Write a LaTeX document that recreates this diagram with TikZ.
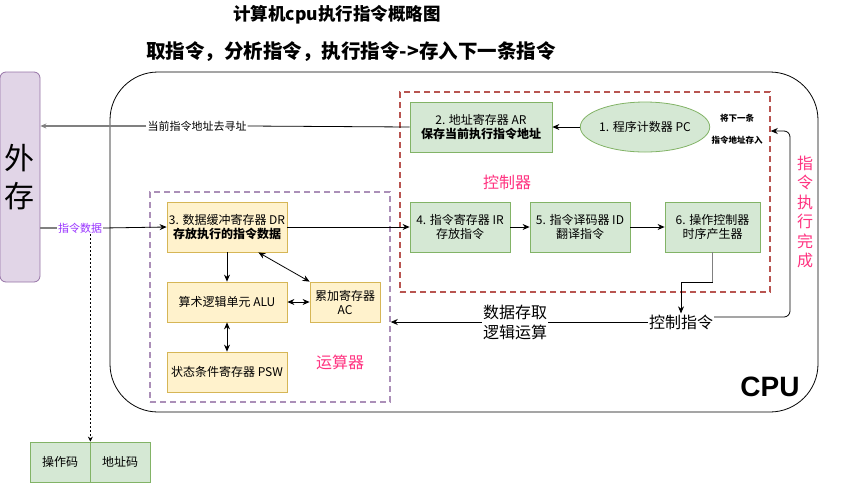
\documentclass[tikz,border=0pt]{standalone}
\usepackage{fontspec}
\setmainfont{Noto Sans CJK SC}
\newfontfamily\arialfont{Liberation Sans}
\usetikzlibrary{arrows.meta,shapes.geometric}
\definecolor{greenfill}{HTML}{D5E8D4}
\definecolor{greenline}{HTML}{82B366}
\definecolor{yellowfill}{HTML}{FFF2CC}
\definecolor{yellowline}{HTML}{D6B656}
\definecolor{purplefill}{HTML}{E1D5E7}
\definecolor{purpleline}{HTML}{9673A6}
\definecolor{redline}{HTML}{B85450}
\definecolor{pinktext}{HTML}{FF3380}
\definecolor{violettext}{HTML}{9933FF}
\tikzset{
  greenbox/.style={draw=greenline,fill=greenfill,line width=0.8pt,inner sep=0pt,align=center,font=\fontsize{12}{14}\selectfont},
  yellowbox/.style={draw=yellowline,fill=yellowfill,line width=0.8pt,inner sep=0pt,align=center,font=\fontsize{12}{14}\selectfont},
  areabox/.style={line width=1.5pt,dash pattern=on 6pt off 4pt,inner sep=0pt},
  arrowline/.style={-{Stealth[length=7pt,width=6pt]},line width=0.8pt},
  biline/.style={{Stealth[length=7pt,width=6pt]}-{Stealth[length=7pt,width=6pt]},line width=0.8pt},
  grayline/.style={draw=gray,line width=1.6pt},
  tag/.style={inner sep=1pt,fill=white,align=center}
}
\begin{document}
\begin{tikzpicture}[x=1pt,y=1pt,yscale=-1]
\useasboundingbox (0,0) rectangle (841,483);

% Titles
\node[font=\bfseries\fontsize{17.5}{20}\selectfont] (title) at (337,15) {计算机cpu执行指令概略图};
\node[font=\bfseries\fontsize{19.5}{22}\selectfont] (subtitle) at (351,52) {取指令，分析指令，执行指令->存入下一条指令};

% CPU frame and areas
\draw[line width=0.8pt,rounded corners=48pt] (110,72) rectangle (818,412);
\node[font=\arialfont\bfseries\fontsize{28}{30}\selectfont] (cpulbl) at (770,387) {CPU};
\node[areabox,draw=redline,minimum width=370,minimum height=200] (ctrlarea) at (585,192) {};
\node[areabox,draw=purpleline!80,minimum width=240,minimum height=210] (aluarea) at (270,297) {};

% External memory
\node[draw=purpleline,fill=purplefill,rounded corners=6pt,line width=0.8pt,minimum width=40,minimum height=210,inner sep=0pt,align=center,font=\fontsize{30}{38}\selectfont] (waicun) at (20,177) {外\\存};

% Controller boxes
\node[greenbox,minimum width=142,minimum height=50] (ar) at (481,127) {2. 地址寄存器 AR\\\textbf{保存当前执行指令地址}};
\node[greenbox,ellipse,minimum width=120,minimum height=50] (pc) at (645,127) {1. 程序计数器 PC};
\node[greenbox,minimum width=100,minimum height=50] (ir) at (460,227) {4. 指令寄存器 IR\\存放指令};
\node[greenbox,minimum width=100,minimum height=50] (id) at (580,227) {5. 指令译码器 ID\\翻译指令};
\node[greenbox,minimum width=95,minimum height=50] (cu) at (712.5,227) {6. 操作控制器\\时序产生器};

% Operator boxes
\node[yellowbox,minimum width=120,minimum height=50] (dr) at (227,227) {3. 数据缓冲寄存器 DR\\\textbf{存放执行的指令数据}};
\node[yellowbox,minimum width=120,minimum height=40] (alu) at (227,302) {算术逻辑单元 ALU};
\node[yellowbox,minimum width=70,minimum height=40] (ac) at (345,302) {累加寄存器\\AC};
\node[yellowbox,minimum width=120,minimum height=40] (psw) at (227,372) {状态条件寄存器 PSW};

% Instruction format
\node[greenbox,minimum width=60,minimum height=40] (opcode) at (60,462) {操作码};
\node[greenbox,minimum width=60,minimum height=40] (addr) at (120,462) {地址码};

% Text Nodes
\node[tag,font=\fontsize{11}{13}\selectfont] (addrlbl) at (197,126) {当前指令地址去寻址};
\node[tag,text=violettext,font=\fontsize{11}{13}\selectfont] (datalbl) at (80,228) {指令数据};
\node[align=center,font=\bfseries\fontsize{8.5}{22}\selectfont] (pclbl) at (737,129) {将下一条\\指令地址存入};
\node[text=pinktext,font=\fontsize{16}{18}\selectfont] (ctrlname) at (507,182) {控制器};
\node[text=pinktext,font=\fontsize{16}{18}\selectfont] (aluname) at (340,362) {运算器};
\node[text=pinktext,align=center,font=\fontsize{16}{19.5}\selectfont] (donelbl) at (805,212) {指\\令\\执\\行\\完\\成};
\node[tag,font=\fontsize{16}{19}\selectfont] (ctrllbl) at (681,322) {控制指令};
\node[tag,align=center,font=\fontsize{16}{20}\selectfont] (oplbl) at (515,322) {数据存取\\逻辑运算};

% Connections
\draw[arrowline] (pc) -- (ar);
\draw[line width=0.8pt] (ar.west) -- (addrlbl.east);
\draw[grayline,-{Stealth[length=6pt,width=5pt]}] (addrlbl.west) -- (waicun.east |- addrlbl.west);
\draw[grayline] (waicun.east |- datalbl.west) -- (datalbl.west);
\draw[arrowline] (datalbl.east) -- (dr.west);
\draw[line width=0.8pt,dash pattern=on 2pt off 2pt,-{Stealth[length=5pt,width=5pt]}] (opcode.north east |- datalbl.south) -- (opcode.north east);
\draw[arrowline] (dr.east) -- (ir.west);
\draw[arrowline] (dr.south) -- (alu.north);
\draw[biline] ([xshift=-29pt]dr.south east) -- (ac.north west);
\draw[biline] (alu.east) -- (ac.west);
\draw[biline] (alu.south) -- (psw.north);
\draw[arrowline] (ir) -- (id);
\draw[arrowline] (id) -- (cu);
\coordinate (bend) at (cu.south |- 0,282);
\draw[grayline] (cu.south) -- (bend);
\draw[arrowline] (bend) -| (ctrllbl.north);
\draw[line width=0.8pt] (ctrllbl.west) -- (oplbl.east);
\draw[arrowline] (oplbl.west) -- (aluarea.east |- oplbl.west);
\coordinate (ret) at (790,131);
\draw[arrowline,rounded corners=6pt] ([yshift=-5pt]ctrllbl.east) -| (ret) -- (ctrlarea.east |- ret);

\end{tikzpicture}
\end{document}
